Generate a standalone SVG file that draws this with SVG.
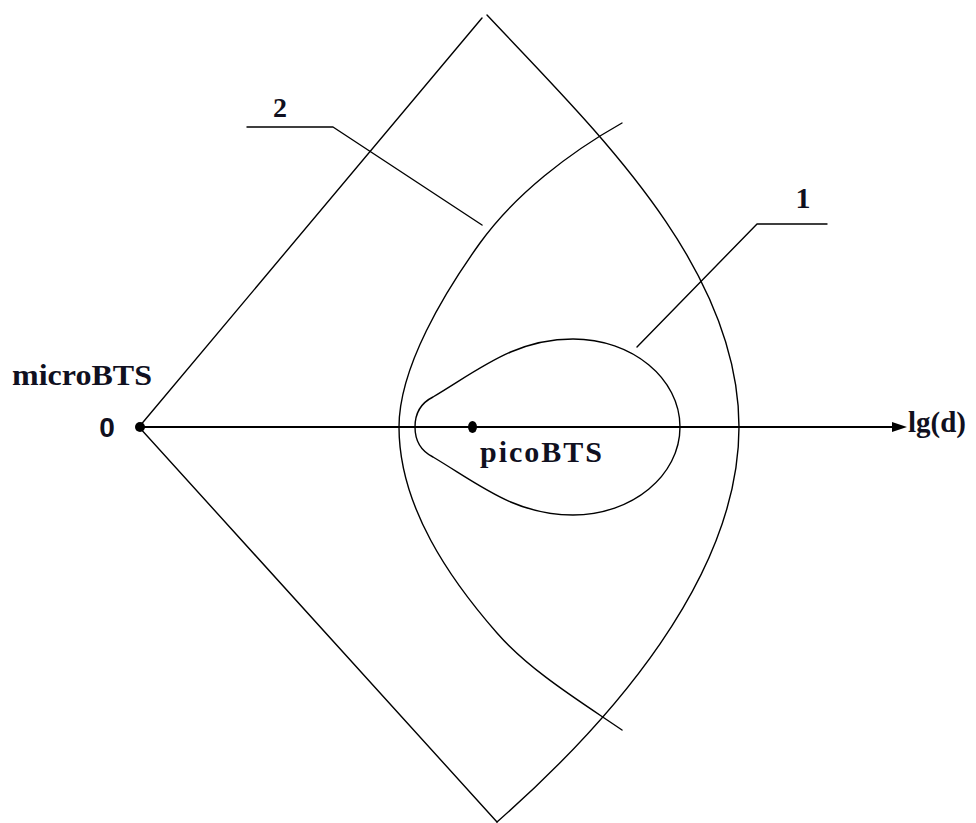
<svg xmlns="http://www.w3.org/2000/svg" width="976" height="823" viewBox="0 0 976 823">
<style>
.ln{fill:none;stroke:#000;stroke-width:1.4;stroke-linejoin:round;stroke-linecap:round}
.ax{fill:none;stroke:#000;stroke-width:2}
.t{font-family:"Liberation Serif","Times New Roman",serif;font-weight:bold;fill:#101020}
.s{font-family:"Liberation Sans",Arial,sans-serif;font-weight:bold;fill:#101020}
</style>
<rect width="976" height="823" fill="#fff"/>
<g id="sector">
<path class="ln" d="M139,427 L482,18"/>
<path class="ln" d="M139,427 L497,822"/>
<path class="ln" d="M487,15 C596.6,131.5 739,267 739,427 C739,577 609.6,722.9 497,822"/>
</g>
<g id="curve2">
<path class="ln" d="M622,123 C569.8,152.4 515,194.3 480,243 C445,291.7 399,367 399,427 C399,507 450.9,580.3 497,633 C529.9,670.7 580.7,701.8 622,730"/>
</g>
<g id="curve1">
<path class="ln" d="M415,427 C415,413 421,403 433,397 C480,369 515,339 573,339 C632,339 680,378.4 680,427 C680,475.6 632,515 573,515 C515,515 480,485 433,457 C421,451 415,441 415,427 Z"/>
</g>
<g id="axis">
<line class="ax" x1="140" y1="427" x2="894" y2="427"/>
<polygon points="892,422 907,427 892,432" fill="#000"/>
<text class="t" x="908" y="432" font-size="29">lg(d)</text>
</g>
<g id="microBTS">
<circle cx="140" cy="427" r="5" fill="#000"/>
<text class="t" x="12" y="385" font-size="30" textLength="140" lengthAdjust="spacingAndGlyphs">microBTS</text>
<text class="s" x="107" y="437" font-size="28" text-anchor="middle">0</text>
</g>
<g id="picoBTS">
<ellipse cx="472.5" cy="427" rx="4.5" ry="6" fill="#000"/>
<text class="t" x="480" y="462" font-size="30" textLength="122" lengthAdjust="spacing">picoBTS</text>
</g>
<g id="connectors">
<polyline class="ln" points="247,127 333,127 482,225"/>
<polyline class="ln" points="637,347 757,224 827,224"/>
</g>
<g id="labels">
<text class="t" x="280" y="117" font-size="28" text-anchor="middle">2</text>
<text class="t" x="803" y="208" font-size="30" text-anchor="middle">1</text>
</g>
</svg>
